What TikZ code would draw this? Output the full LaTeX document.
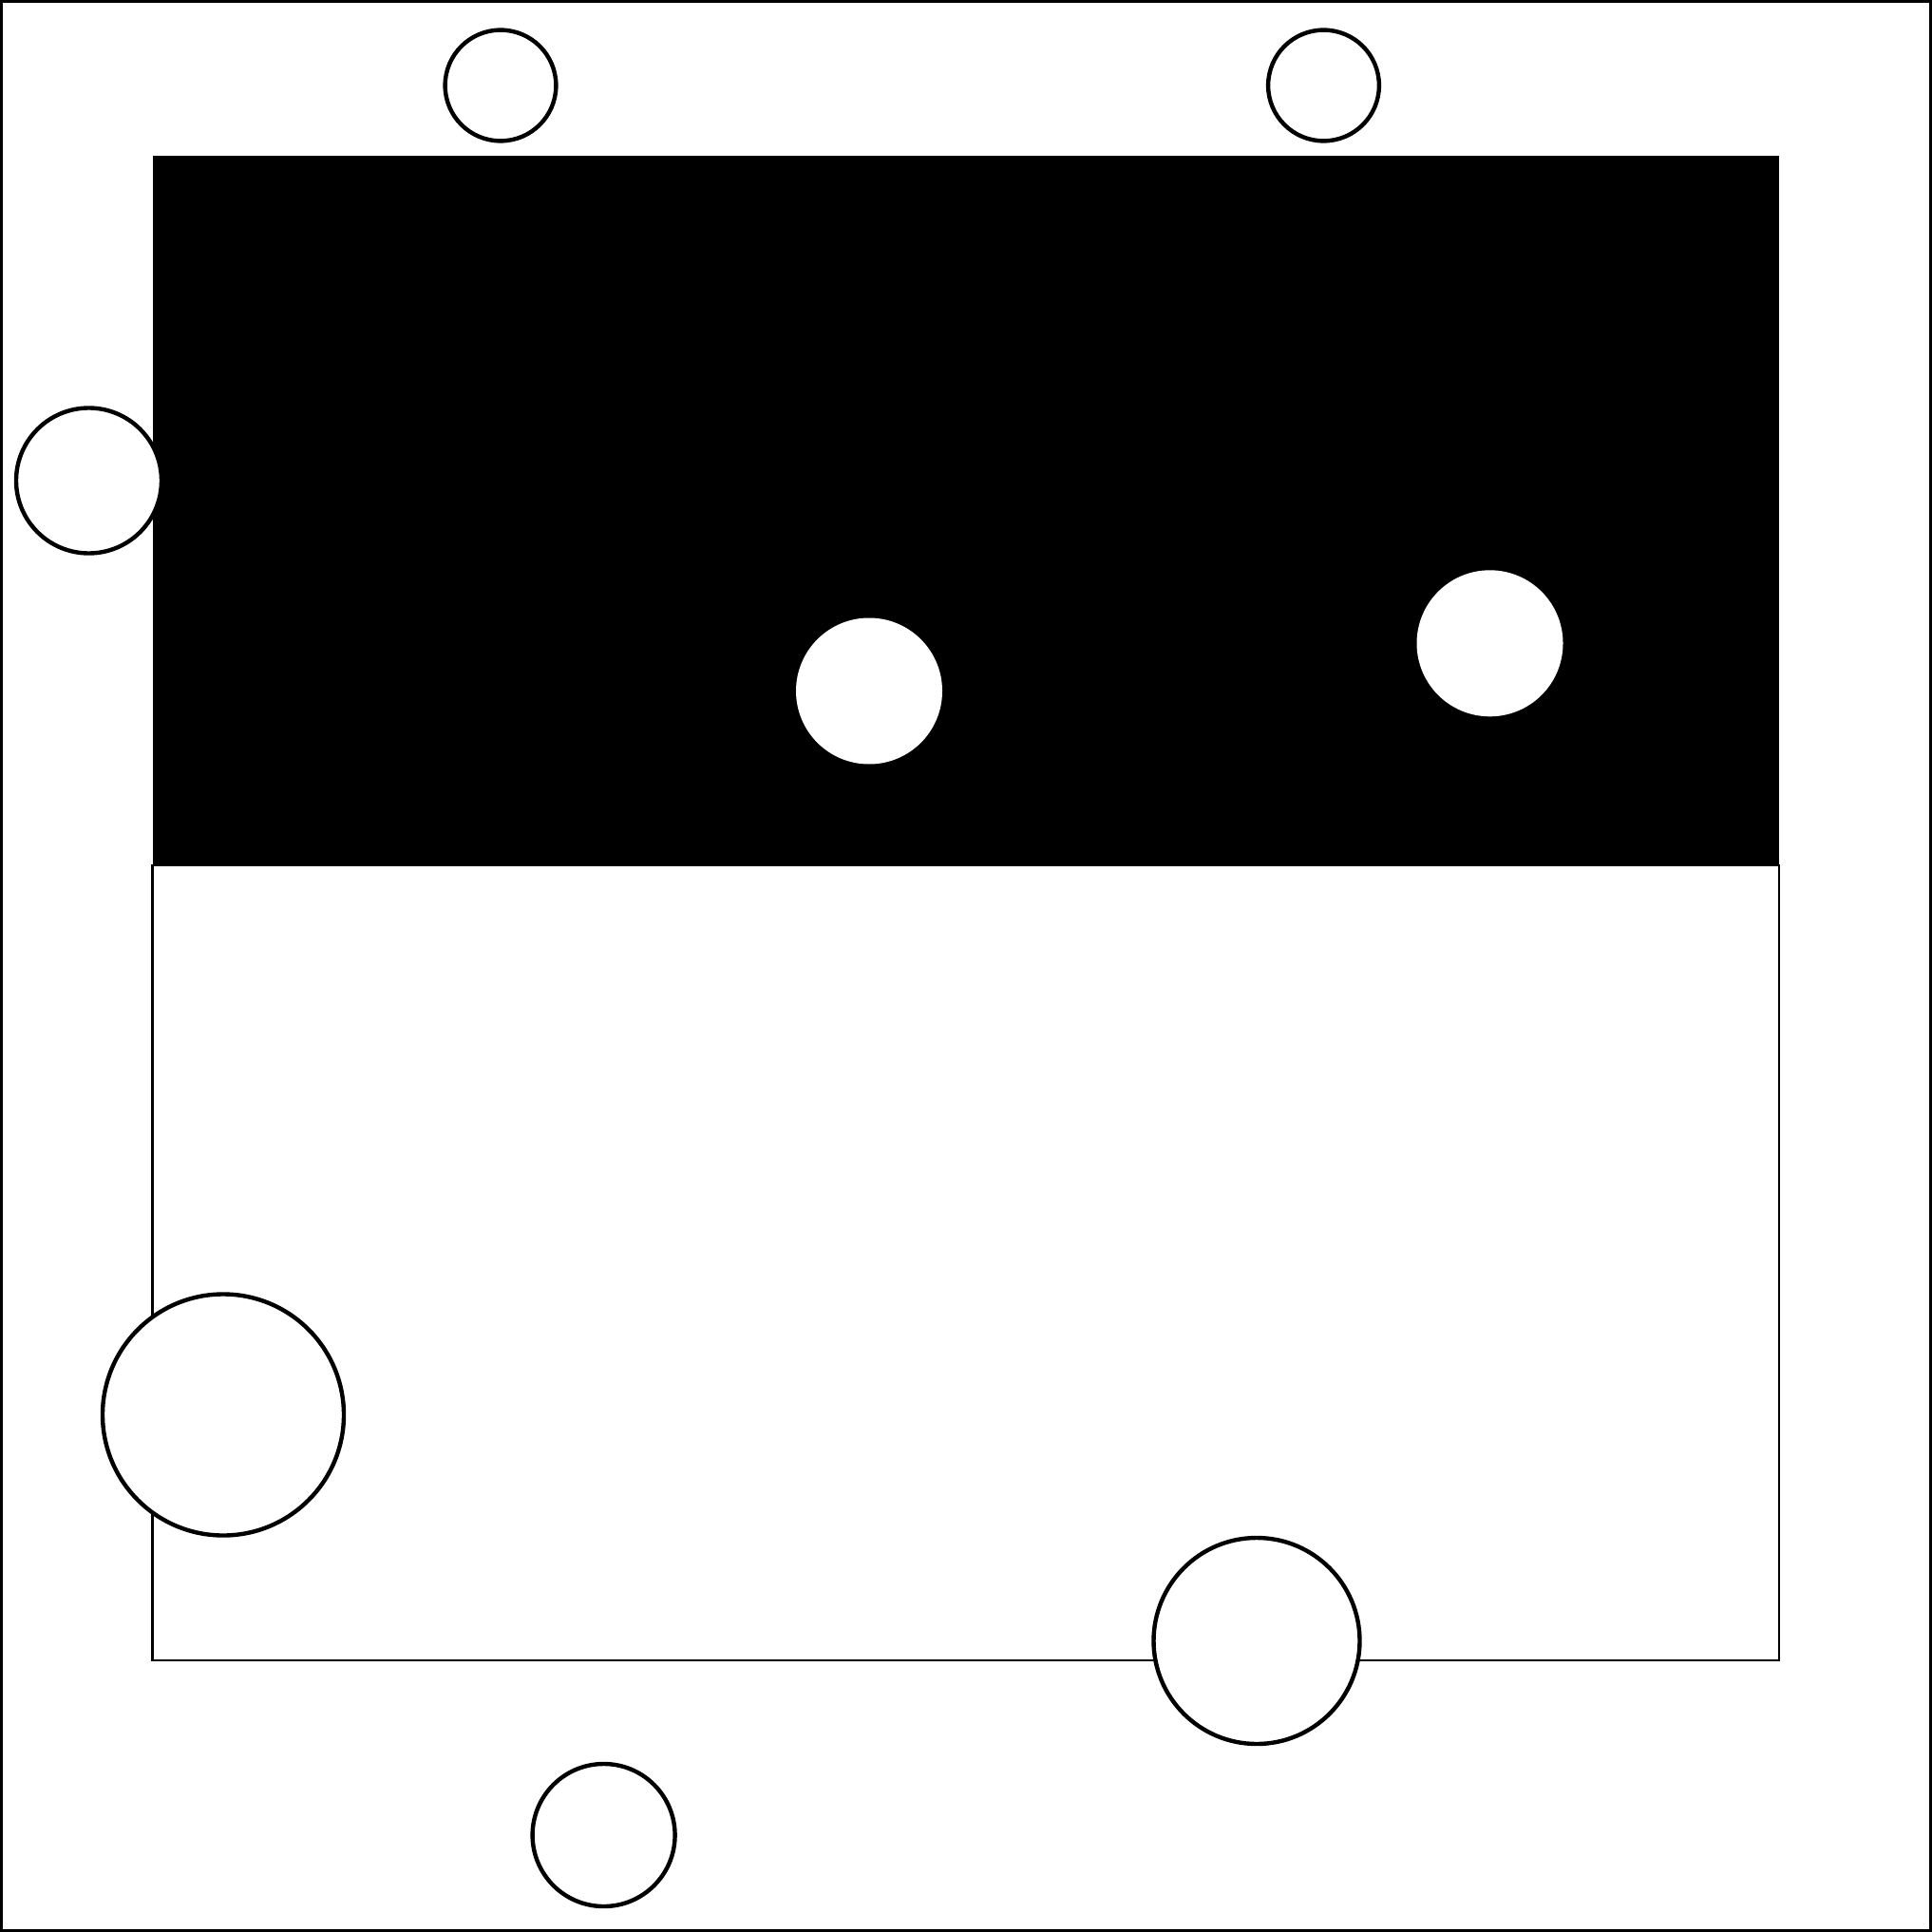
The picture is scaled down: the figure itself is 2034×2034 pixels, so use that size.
\documentclass[tikz,border=0pt]{standalone}
\begin{document}
\begin{tikzpicture}[x=0.01cm,y=-0.01cm,
  ring/.style={draw=black,fill=white,line width=1.25pt},
  hole/.style={fill=white},
  thinbox/.style={draw=black,line width=0.6pt}]
\useasboundingbox (0,0) rectangle (2034,2034);
\draw[line width=0.9pt] (1.5,1.5) rectangle (2032.5,2032.5);
\fill[black] (160.5,164.5) rectangle (1873,911);
\draw[thinbox] (160.5,911) rectangle (1873,1748);
\fill[hole] (915,727.5) circle (77);
\fill[hole] (1568.5,677.3) circle (77);
\draw[ring] (527,90) circle (58.4);
\draw[ring] (1393.5,90) circle (58.4);
\draw[ring] (93.5,506) circle (76.5);
\draw[ring] (235,1489.5) circle (127);
\draw[ring] (1323,1727.5) circle (108.5);
\draw[ring] (635.6,1932) circle (75);
\end{tikzpicture}
\end{document}
